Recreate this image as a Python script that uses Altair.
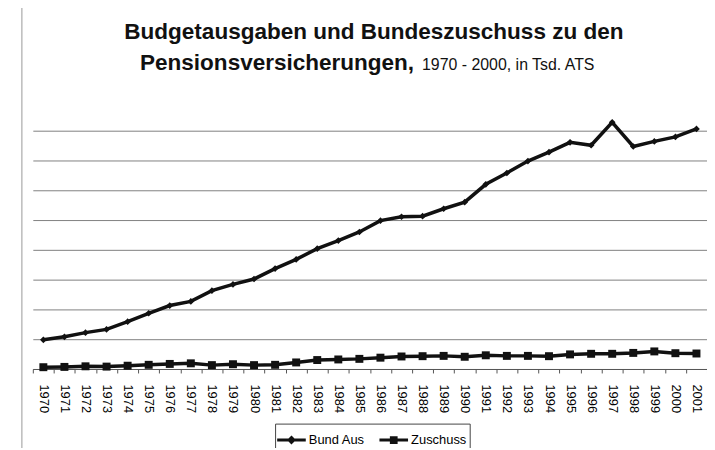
import altair as alt
import pandas as pd

years = [str(y) for y in range(1970, 2002)]
series_names = ["Bund Aus", "Zuschuss"]
bund_aus = [0.98, 1.08, 1.22, 1.33, 1.59, 1.87, 2.13, 2.27, 2.63, 2.84,
            3.02, 3.37, 3.68, 4.04, 4.31, 4.60, 4.98, 5.11, 5.13, 5.38,
            5.60, 6.20, 6.58, 6.98, 7.28, 7.61, 7.51, 8.28, 7.47, 7.64,
            7.79, 8.06]
zuschuss = [0.06, 0.07, 0.09, 0.08, 0.11, 0.14, 0.17, 0.19, 0.13, 0.16,
            0.13, 0.14, 0.22, 0.30, 0.32, 0.34, 0.38, 0.42, 0.43, 0.44,
            0.41, 0.46, 0.44, 0.44, 0.43, 0.49, 0.51, 0.51, 0.54, 0.59,
            0.53, 0.52]
title_line1 = "Budgetausgaben und Bundeszuschuss zu den"
title_line2_bold = "Pensionsversicherungen,"
title_line2_normal = "1970 - 2000, in Tsd. ATS"
grid_values = [0, 1, 2, 3, 4, 5, 6, 7, 8]

FONT = "Liberation Sans"

df = pd.DataFrame({
    "year": years * 2,
    "series": [series_names[0]] * len(years) + [series_names[1]] * len(years),
    "value": bund_aus + zuschuss,
})

x_enc = alt.X(
    "year:O",
    sort=years,
    bandPosition=0.5,
    scale=alt.Scale(type="band", paddingInner=0, paddingOuter=0),
    axis=alt.Axis(
        title=None, labelAngle=90, tickBand="extent", grid=False,
        domainColor="#555", tickColor="#555", tickSize=4, labelPadding=11,
        labelFont=FONT, labelFontSize=13, labelColor="black",
    ),
)
y_enc = alt.Y(
    "value:Q",
    scale=alt.Scale(domain=[0, 9], nice=False, zero=True),
    axis=alt.Axis(
        title=None, labels=False, ticks=False, domain=False, grid=True,
        values=grid_values, gridColor="#808080", gridWidth=1,
    ),
)

base = alt.Chart(df)

lines = base.mark_line(color="#111", strokeWidth=3.5).encode(
    x=x_enc, y=y_enc, detail="series:N"
)

points = base.mark_point(filled=True, color="#111", opacity=1).encode(
    x=x_enc,
    y=y_enc,
    shape=alt.Shape("series:N",
                    scale=alt.Scale(domain=series_names, range=["diamond", "square"]),
                    legend=None),
    size=alt.Size("series:N",
                  scale=alt.Scale(domain=series_names, range=[45, 64]),
                  legend=None),
)

legend_layer = base.mark_point(filled=False, opacity=0).encode(
    x=x_enc,
    y=y_enc,
    shape=alt.Shape(
        "series:N",
        scale=alt.Scale(
            domain=series_names,
            range=[
                "M-1.2,0H1.2M0,-0.2L0.2,0L0,0.2L-0.2,0Z",
                "M-1.2,0H1.2M-0.2,-0.2H0.2V0.2H-0.2Z",
            ],
        ),
        legend=alt.Legend(
            title=None, orient="none", legendX=244, legendY=325,
            direction="horizontal", strokeColor="#444", fillColor="white",
            padding=3, symbolSize=576, symbolOpacity=1,
            symbolFillColor="#111", symbolStrokeColor="#111",
            symbolStrokeWidth=3, labelFont=FONT, labelFontSize=13,
            labelColor="black", labelOffset=4, columnPadding=8,
        ),
    ),
)

t1 = alt.Chart(pd.DataFrame({"t": [title_line1]})).mark_text(
    font=FONT, fontSize=22.7, fontWeight="bold", align="center",
    baseline="alphabetic", color="#111",
).encode(x=alt.value(343.5), y=alt.value(-62), text="t:N")

t2 = alt.Chart(pd.DataFrame({"t": [title_line2_bold]})).mark_text(
    font=FONT, fontSize=22.7, fontWeight="bold", align="right",
    baseline="alphabetic", color="#111",
).encode(x=alt.value(384), y=alt.value(-31), text="t:N")

t3 = alt.Chart(pd.DataFrame({"t": [title_line2_normal]})).mark_text(
    font=FONT, fontSize=16, align="left", baseline="alphabetic", color="#111",
).encode(x=alt.value(392), y=alt.value(-31), text="t:N")

frame = alt.Chart(pd.DataFrame({"a": [0]})).mark_rule(
    color="#999", strokeWidth=1
).encode(x=alt.value(-11), y=alt.value(-100), y2=alt.value(350))

chart = alt.layer(frame, lines, points, legend_layer, t1, t2, t3).resolve_scale(
    shape="independent"
).properties(
    width=679,
    height=270,
    autosize=alt.AutoSizeParams(type="none"),
    padding={"left": 25, "top": 92, "right": 0, "bottom": 78},
    background="white",
).configure_view(stroke=None)

chart.save("out.html", embed_options={"renderer": "svg", "actions": False})
